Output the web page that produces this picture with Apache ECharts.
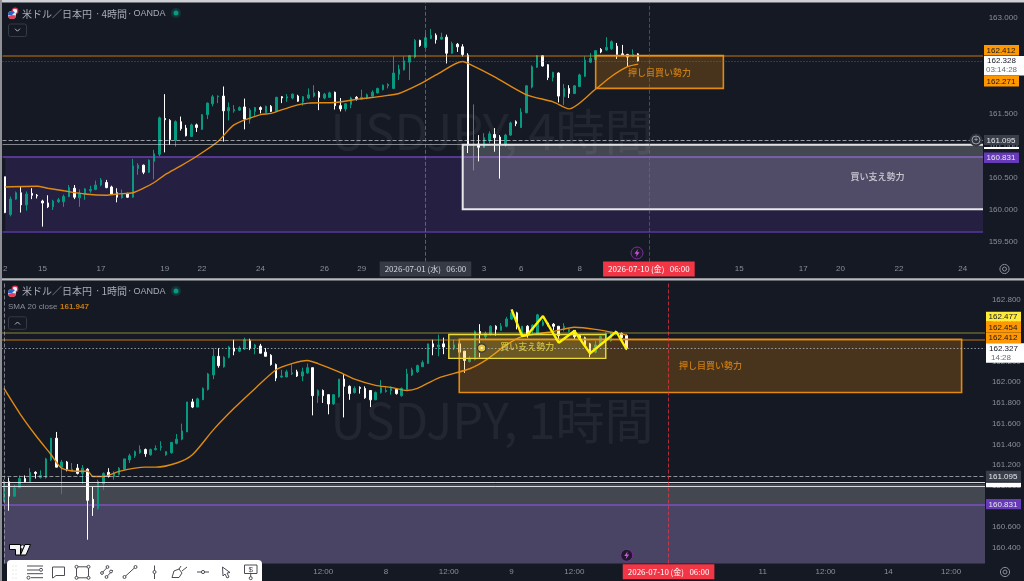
<!DOCTYPE html>
<html><head><meta charset="utf-8">
<style>html,body{margin:0;padding:0;background:#151924}#c{width:1024px;height:581px}</style>
<script src="https://cdn.jsdelivr.net/npm/echarts@6/dist/echarts.min.js"></script>
</head><body><div id="c"></div>
<script>
// [open, close, low, high]
const candles4h = [
[160.52,159.96,159.95,160.52],[159.93,160.17,159.90,160.21],[160.17,160.27,160.16,160.29],[160.27,160.08,159.96,160.37],[160.08,160.25,159.99,160.29],
[160.26,160.23,160.17,160.34],[160.23,160.22,160.18,160.25],[160.14,160.11,159.74,160.16],[160.11,160.05,160.03,160.23],[160.05,160.14,160.00,160.16],
[160.13,160.16,160.11,160.19],[160.13,160.21,160.05,160.24],[160.21,160.35,160.20,160.39],[160.34,160.20,160.17,160.39],[160.19,160.26,160.05,160.32],
[160.25,160.33,160.16,160.34],[160.30,160.32,160.27,160.38],[160.32,160.39,160.31,160.46],[160.39,160.47,160.37,160.50],[160.43,160.35,160.34,160.47],
[160.36,160.25,160.24,160.38],[160.27,160.20,160.12,160.34],[160.19,160.26,160.18,160.32],[160.25,160.20,160.19,160.27],[160.20,160.69,160.19,160.80],
[160.65,160.70,160.55,160.73],[160.70,160.59,160.56,160.71],[160.59,160.78,160.58,160.79],[160.76,160.88,160.48,160.94],[160.87,161.44,160.84,161.46],
[161.43,161.41,160.90,161.81],[161.40,161.10,161.02,161.42],[161.09,161.38,160.99,161.40],[161.38,161.27,161.24,161.46],[161.28,161.16,161.15,161.33],
[161.15,161.33,161.14,161.35],[161.33,161.29,161.22,161.35],[161.26,161.49,161.25,161.50],[161.49,161.67,161.42,161.68],[161.66,161.77,161.62,161.80],
[161.77,161.78,161.67,161.79],[161.78,161.55,161.07,161.93],[161.55,161.60,161.40,161.68],[161.55,161.57,161.52,161.64],[161.56,161.60,161.55,161.62],
[161.61,161.42,161.26,161.74],[161.42,161.56,161.35,161.59],[161.54,161.60,161.47,161.61],[161.60,161.57,161.51,161.62],[161.52,161.62,161.51,161.63],
[161.62,161.54,161.53,161.64],[161.54,161.76,161.53,161.77],[161.77,161.75,161.67,161.78],[161.75,161.77,161.69,161.81],[161.75,161.81,161.73,161.82],
[161.78,161.70,161.69,161.80],[161.69,161.77,161.63,161.78],[161.75,161.80,161.73,161.90],[161.78,161.83,161.76,161.95],[161.84,161.76,161.56,161.86],
[161.75,161.81,161.73,161.83],[161.76,161.83,161.75,161.85],[161.84,161.63,161.57,161.85],[161.63,161.58,161.54,161.75],[161.58,161.66,161.54,161.67],
[161.65,161.75,161.59,161.77],[161.76,161.74,161.71,161.78],[161.73,161.76,161.72,161.88],[161.75,161.80,161.73,161.82],[161.78,161.84,161.77,161.87],
[161.83,161.90,161.82,161.91],[161.88,161.95,161.87,161.96],[161.94,161.96,161.90,161.98],[161.90,162.14,161.89,162.40],[162.12,162.20,162.03,162.27],
[162.19,162.33,162.18,162.40],[162.31,162.41,162.03,162.42],[162.39,162.65,162.37,162.67],[162.65,162.57,162.55,162.66],[162.54,162.69,162.53,162.76],
[162.68,162.73,162.67,162.83],[162.73,162.66,162.60,162.76],[162.67,162.70,162.66,162.77],[162.70,162.45,162.29,162.74],[162.45,162.60,162.44,162.63],
[162.59,162.55,162.47,162.61],[162.55,162.43,162.40,162.59],[162.42,161.02,160.89,162.45],[161.02,161.03,160.62,161.65],[161.03,160.98,160.76,161.17],
[160.98,161.13,160.97,161.20],[161.08,161.19,161.04,161.23],[161.18,161.13,160.91,161.28],[161.14,161.03,160.49,161.17],[161.02,161.17,160.99,161.19],
[161.17,161.36,161.16,161.38],[161.38,161.35,161.31,161.40],[161.29,161.53,161.28,161.59],[161.52,161.94,161.51,161.95],[161.92,162.24,161.90,162.26],
[162.23,162.41,162.22,162.42],[162.41,162.25,162.24,162.42],[162.27,162.07,162.03,162.28],[162.07,162.15,162.01,162.16],[162.14,161.78,161.68,162.15],
[161.77,161.90,161.64,161.97],[161.90,161.82,161.75,161.95],[161.82,161.94,161.81,161.95],[161.93,162.11,161.92,162.13],[162.09,162.34,162.08,162.40],
[162.31,162.37,162.30,162.45],[162.35,162.49,162.34,162.50],[162.51,162.47,162.45,162.53],[162.50,162.54,162.49,162.70],[162.52,162.63,162.50,162.65],
[162.56,162.43,162.36,162.61],[162.44,162.42,162.41,162.58],[162.43,162.39,162.24,162.44],[162.40,162.43,162.39,162.51],[162.44,162.33,162.32,162.45]
];
const candles1h = [
[160.85,161.04,160.84,161.06],[161.04,160.90,160.76,161.08],[160.90,160.98,160.89,161.01],[160.98,161.07,160.98,161.10],[161.07,161.04,161.03,161.10],
[161.04,161.13,161.03,161.17],[161.13,161.12,161.07,161.14],[161.08,161.10,161.07,161.15],[161.08,161.26,161.07,161.27],[161.25,161.46,161.24,161.46],
[161.46,161.18,161.18,161.52],[161.18,161.23,160.92,161.25],[161.23,161.16,161.14,161.24],[161.14,161.16,161.14,161.22],[161.17,161.12,161.11,161.21],
[161.12,161.17,161.02,161.20],[161.16,160.86,160.48,161.17],[160.87,160.79,160.71,160.99],[160.78,161.04,160.77,161.06],[161.02,161.12,160.96,161.13],
[161.13,161.09,161.08,161.17],[161.09,161.12,161.06,161.14],[161.11,161.17,161.10,161.18],[161.16,161.26,161.15,161.26],[161.25,161.29,161.22,161.31],
[161.29,161.33,161.27,161.34],[161.32,161.35,161.31,161.39],[161.35,161.31,161.28,161.36],[161.30,161.35,161.29,161.36],[161.35,161.36,161.34,161.39],
[161.37,161.38,161.34,161.43],[161.30,161.33,161.29,161.33],[161.32,161.42,161.31,161.42],[161.41,161.45,161.40,161.50],[161.45,161.53,161.44,161.60],
[161.52,161.81,161.52,161.81],[161.81,161.76,161.75,161.84],[161.76,161.84,161.76,161.85],[161.83,161.94,161.83,161.95],[161.93,162.08,161.92,162.09],
[162.07,162.25,162.03,162.33],[162.25,162.16,162.14,162.33],[162.15,162.24,162.14,162.25],[162.24,162.34,162.23,162.35],[162.33,162.30,162.26,162.41],
[162.30,162.33,162.29,162.35],[162.32,162.41,162.31,162.43],[162.40,162.33,162.31,162.42],[162.33,162.36,162.27,162.37],[162.35,162.28,162.28,162.37],
[162.29,162.25,162.25,162.33],[162.26,162.17,162.16,162.27],[162.17,162.04,162.01,162.18],[162.05,162.06,162.04,162.12],[162.05,162.10,162.05,162.12],
[162.08,162.09,162.07,162.18],[162.10,162.06,162.05,162.12],[162.06,162.10,162.01,162.14],[162.09,162.14,162.08,162.18],[162.14,161.87,161.68,162.14],
[161.87,161.92,161.80,161.93],[161.92,161.87,161.80,161.93],[161.88,161.79,161.69,161.88],[161.79,161.88,161.78,161.88],[161.86,162.03,161.85,162.03],
[162.03,161.96,161.66,162.08],[161.96,161.89,161.83,161.97],[161.90,161.94,161.89,161.96],[161.95,161.94,161.89,161.96],[161.94,161.85,161.84,161.96],
[161.92,161.83,161.76,161.92],[161.83,161.90,161.83,161.91],[161.90,161.95,161.89,162.02],[161.91,161.92,161.90,161.96],[161.92,161.94,161.88,161.96],
[161.93,161.89,161.88,161.94],[161.87,161.94,161.86,161.95],[161.93,162.08,161.92,162.13],[162.07,162.12,162.06,162.14],[162.10,162.16,162.09,162.17],
[162.15,162.19,162.15,162.21],[162.18,162.37,162.18,162.37],[162.37,162.34,162.26,162.41],[162.34,162.36,162.25,162.46],[162.37,162.34,162.27,162.43],
[162.34,162.35,162.33,162.37],[162.33,162.36,162.31,162.41],[162.37,162.29,162.29,162.40],[162.30,162.21,162.09,162.30],[162.20,162.23,162.19,162.25],
[162.22,162.49,162.21,162.50],[162.49,162.47,162.24,162.56],[162.44,162.47,162.41,162.49],[162.46,162.54,162.45,162.55],[162.54,162.51,162.45,162.55],
[162.50,162.54,162.50,162.57],[162.54,162.61,162.53,162.63],[162.61,162.67,162.60,162.68],[162.67,162.54,162.51,162.68],[162.46,162.54,162.45,162.54],
[162.54,162.46,162.43,162.55],[162.50,162.55,162.47,162.56],[162.47,162.65,162.46,162.66],[162.55,162.58,162.54,162.60],[162.57,162.55,162.54,162.58],
[162.56,162.54,162.50,162.57],[162.54,162.45,162.39,162.54],[162.51,162.54,162.49,162.57],[162.49,162.51,162.48,162.52],[162.50,162.44,162.41,162.50],
[162.45,162.43,162.42,162.46],[162.43,162.36,162.34,162.44],[162.37,162.27,162.24,162.38],[162.29,162.36,162.28,162.40],[162.36,162.44,162.35,162.45],
[162.42,162.47,162.41,162.48],[162.40,162.47,162.39,162.48],[162.46,162.49,162.45,162.50],[162.47,162.43,162.39,162.48],[162.45,162.33,162.31,162.46]
];
// SMA read at candle indexes: [index, value]
const sma4h = [[0,160.36],[6,160.37],[8,160.34],[11,160.30],[15,160.25],[19,160.23],[21,160.25],[24,160.27],[26,160.34],[28,160.43],[30,160.55],[33,160.69],[36,160.84],[40,161.07],[43,161.33],[48,161.49],[50,161.51],[54,161.62],[57,161.67],[62,161.68],[67,161.74],[71,161.78],[74,161.82],[78,161.97],[81,162.11],[86,162.32],[87,162.29],[92,162.08],[98,161.80],[103,161.69],[106,161.58],[111,161.89],[114,162.09],[117,162.24],[119,162.28]];
const sma1h = [[0,161.94],[3,161.70],[6,161.49],[9,161.30],[11,161.17],[14,161.14],[16,161.14],[17,161.09],[19,161.09],[22,161.14],[27,161.18],[29,161.18],[33,161.22],[36,161.30],[40,161.54],[44,161.75],[48,161.94],[52,162.12],[55,162.18],[58,162.21],[60,162.18],[64,162.10],[67,162.03],[71,161.97],[74,161.95],[77,161.92],[79,161.94],[83,162.04],[89,162.13],[92,162.21],[96,162.36],[99,162.44],[105,162.49],[109,162.53],[113,162.51],[119,162.455]];
const yellowPath1h = [[97,162.703],[99,162.445],[100,162.455],[103,162.638],[106,162.381],[109,162.494],[112,162.278],[117,162.487],[119,162.317]];
const ticks4hIdx = [0,7,18,30,37,48,60,67,79,90,97,108,121,138,150,157,168,180];
const ticks4hTxt = ['2','15','17','19','22','24','26','29','{g|2026-07-01 (水)   06:00}','3','6','8','{r|2026-07-10 (金)   06:00}','15','17','20','22','24'];
const ticks1hIdx = [61,73,85,97,109,127,145,157,169,181];
const ticks1hTxt = ['12:00','8','12:00','9','12:00','{r|2026-07-10 (金)   06:00}','11','12:00','14','12:00'];

const BG='#151924', TEAL='#089981', AX='#8b8e97', ORG='#ff9800', PUR='#673ab7';
const NUM='"Liberation Sans",Arial,sans-serif', JP='"Noto Sans CJK JP","Noto Sans",sans-serif';

function cats(n){return Array.from({length:n},(_,i)=>String(i));}
function xAxis(grid,n,idx,txt,margin){
  const m={}; idx.forEach((v,i)=>m[v]=txt[i]);
  return {type:'category',gridIndex:grid,data:cats(n),boundaryGap:true,z:50,
    axisLine:{show:false},axisTick:{show:false},splitLine:{show:false},
    axisLabel:{color:AX,fontSize:8,fontFamily:NUM,margin:margin,verticalAlign:'middle',hideOverlap:false,
      showMinLabel:true,showMaxLabel:true,
      interval:(i)=>m[i]!==undefined, formatter:(v,i)=>m[i]||'',
      rich:{g:{backgroundColor:'#363a45',color:'#d1d4dc',fontSize:8,fontFamily:JP,padding:[3,5,3,5],height:9,lineHeight:9},
            r:{backgroundColor:'#f23645',color:'#fff',fontSize:8,fontFamily:JP,padding:[3,5,3,5],height:9,lineHeight:9}}}};
}
function yAxis(grid,min,max,step,hide,margin){
  return {type:'value',gridIndex:grid,position:'right',min,max,interval:step,scale:true,z:50,
    axisLine:{show:false},axisTick:{show:false},splitLine:{show:false},
    axisLabel:{color:AX,fontSize:8,fontFamily:NUM,margin:margin,
      formatter:(v)=>hide.some(h=>Math.abs(h-v)<1e-6)?'':v.toFixed(3)}};
}
function candle(grid,data){
  return {type:'candlestick',xAxisIndex:grid,yAxisIndex:grid,data,barWidth:2,z:2,silent:true,
    itemStyle:{color:TEAL,color0:'#ffffff',borderColor:TEAL,borderColor0:'#ffffff',borderWidth:1}};
}
function sma(grid,data){
  return {type:'line',xAxisIndex:grid,yAxisIndex:grid,data,showSymbol:false,smooth:0.25,z:4,silent:true,
    lineStyle:{color:'#e08a12',width:1.4}};
}
function marks(grid,z,areas,lines){
  return {type:'line',xAxisIndex:grid,yAxisIndex:grid,data:[],silent:true,z,
    markArea:{silent:true,z,data:areas||[]},
    markLine:{silent:true,z:z+1,symbol:'none',label:{show:false},animation:false,data:lines||[]}};
}
function area(x0,y0,x1,y1,fill,border,bw){
  return [{xAxis:x0,yAxis:y0,itemStyle:{color:fill,borderColor:border||'transparent',borderWidth:bw||0}},{xAxis:x1,yAxis:y1}];
}
function hl(v,color,width,type){return {yAxis:v,lineStyle:{color,width,type:type||'solid'}};}
function vl(x,a,b,color,type){return [{xAxis:x,yAxis:a,lineStyle:{color,width:1,type}},{xAxis:x,yAxis:b}];}
function textSeries(grid,x,y,txt,color){
  return {type:'scatter',xAxisIndex:grid,yAxisIndex:grid,z:12,silent:true,symbolSize:0,data:[[x,y]],
    label:{show:true,position:'inside',formatter:txt,color,fontSize:9,fontWeight:500,fontFamily:JP}};
}

/* decorations */
const g=[];
function rect(x,y,w,h,fill,z,r){g.push({type:'rect',shape:{x,y,width:w,height:h,r:r||0},style:{fill},z:z||60,silent:true});}
function txt(x,y,s,fill,size,font,align,z,weight){g.push({type:'text',x,y,style:{text:s,fill,fontSize:size,fontFamily:font||NUM,align:align||'left',verticalAlign:'middle',fontWeight:weight||'normal'},z:z||61,silent:true});}
function circ(x,y,r,fill,stroke,lw,z){g.push({type:'circle',shape:{cx:x,cy:y,r},style:{fill:fill||'none',stroke:stroke||'none',lineWidth:lw||1},z:z||62,silent:true});}
function poly(pts,stroke,lw,z){g.push({type:'polyline',shape:{points:pts},style:{stroke,fill:'none',lineWidth:lw||1},z:z||62,silent:true});}
function fillPoly(pts,fill,stroke,z){g.push({type:'polygon',shape:{points:pts},style:{fill,stroke:stroke||'none',lineWidth:1},z:z||62,silent:true});}
function tag(x,y,w,h,fill,s,color){rect(x,y,w,h,fill);txt(x+w/2-0.5,y+h/2+0.3,s,color,8,NUM,'center');}

// watermarks
txt(492,131,'USDJPY, 4時間','rgba(255,255,255,0.06)',49,JP,'center',1);
txt(492,420,'USDJPY, 1時間','rgba(255,255,255,0.06)',49,JP,'center',1);

// right-side panel covers and frame
rect(983,3,41,276,BG,40); rect(985,281,39,300,BG,40);
rect(0,0,1024,2.5,'#cfd0d3',70); rect(0,278.3,1024,2.2,'#b9babd',70); rect(0,0,2,581,'#8e9095',70);

// price tags, pane 1
tag(984,45,35,10.5,ORG,'162.412','#131722');
rect(984,56,40,19.5,'#ffffff'); txt(1001.5,61,'162.328','#131722',8,NUM,'center'); txt(1001.5,70.2,'03:14:28','#6a6d78',8,NUM,'center');
tag(984,76,35,10.5,ORG,'162.271','#131722');
tag(984,135,35,10,'#3a3e48','161.095','#e6e8ee');
rect(984,147,35,2,'#ffffff');
tag(984,152.5,35,10.5,PUR,'160.831','#e6e8ee');
// price tags, pane 2
tag(986,311.7,35,10,'#ffeb3b','162.477','#131722');
tag(986,322,35,10.5,ORG,'162.454','#131722');
tag(986,332.5,35,10.7,ORG,'162.412','#131722');
rect(986,343.3,38,19.4,'#ffffff'); txt(1003.5,349,'162.327','#131722',8,NUM,'center'); txt(991,357.7,'14:28','#6a6d78',8,NUM,'left');
tag(986,470.7,35,11,'#3a3e48','161.095','#e6e8ee');
rect(986,482.7,35,4.6,'#ffffff');
tag(986,499,35,10.3,PUR,'160.831','#e6e8ee');

// plus button on pane 1 right
circ(976,140,6,'#2e323c','#2e323c',1,60); circ(976,140,4,'none','#b2b5be',0.8,61); txt(976,140,'+','#c8cad0',7,NUM,'center',62);

// titles
function title(y,tf){
  txt(22,y,'米ドル／日本円','#a9acb5',10,JP);
  txt(96,y,'·','#a9acb5',10,NUM);
  txt(101.5,y,tf,'#a9acb5',10,JP);
  txt(128,y,'·','#a9acb5',10,NUM);
  txt(133.5,y,'OANDA','#a9acb5',9,NUM);
}
function flag(x,y){circ(x+3,y-4,2.8,'#f4f4f6','#d8344a',1.2);circ(x,y,4,'#e8eaf2');
  g.push({type:'sector',shape:{cx:x,cy:y,r:4,startAngle:Math.PI,endAngle:Math.PI*1.75},style:{fill:'#2962c8'},z:63,silent:true});
  g.push({type:'sector',shape:{cx:x,cy:y,r:4,startAngle:0.1,endAngle:Math.PI*0.95},style:{fill:'#e04058'},z:63,silent:true});}
function live(x,y){circ(x,y,5,'rgba(8,153,129,0.22)');circ(x,y,2.5,TEAL);}
function btn(y,up){g.push({type:'rect',shape:{x:8.5,y,width:18,height:12.5,r:2},style:{fill:'none',stroke:'#363a45',lineWidth:1},z:60,silent:true});
  const c=y+6.2; poly(up?[[15,c+1.5],[17.5,c-1],[20,c+1.5]]:[[15,c-1.5],[17.5,c+1],[20,c-1.5]],'#b2b5be',1);}
flag(12,15); title(14,'4時間'); live(176,13); btn(24,false);
flag(12,293); title(291.5,'1時間'); live(176,291);
txt(8,307,'SMA 20 close','#8b8e97',8,NUM); txt(60,307,'161.947','#c77a10',8,NUM,'left',61,'bold'); btn(316.8,true);

// lightning markers
function bolt(x,y){circ(x,y,6,'#1d1a2a','#7b2fa0',1);fillPoly([[x+1,y-4],[x-2.5,y+0.8],[x-0.3,y+0.8],[x-1,y+4],[x+2.5,y-0.8],[x+0.3,y-0.8]],'#d050e0');}
bolt(637,253); bolt(626.7,555.3);
// alarm icon
circ(481.7,348,5,'#2a2a2a','#555',1,20); circ(481.7,348,3.6,'#e6c63a','none',1,21); circ(481.7,348,1.1,'#fff','none',1,22);
// settings icons
[[1004.5,269],[1005,572]].forEach(p=>{circ(p[0],p[1],4.6,'none','#8b8e97',1,62);circ(p[0],p[1],2,'none','#8b8e97',1,62);});

// logo
fillPoly([[9.5,544.5],[20.5,544.5],[20.5,555],[15.5,555],[15.5,549.5],[9.5,549.5]],'#f4f4f4','#000',30);
circ(22.5,547,2,'#f4f4f4','#000',0.6,30);
fillPoly([[25,544.5],[30.5,544.5],[26,555],[20.5,555]],'#f4f4f4','#000',31);

// toolbar
const K='#4a4d55';
g.push({type:'rect',shape:{x:7,y:560,width:255,height:24,r:4},style:{fill:'#ffffff'},z:60,silent:true});
[[13,566],[16,566],[13,570],[16,570],[13,574],[16,574],[13,578],[16,578]].forEach(p=>circ(p[0],p[1],0.5,'#c4c5c9'));
[[27,566,43],[27,570,39],[27,573.7,43],[31,577.7,43]].forEach(a=>poly([[a[0],a[1]],[a[2],a[1]]],K));
circ(41,569.8,1.5,'#fff',K); circ(28.5,577.7,1.5,'#fff',K);
poly([[52.5,567],[64.5,567],[64.5,575.5],[56,575.5],[53,578],[52.5,578],[52.5,567]],K);
g.push({type:'rect',shape:{x:76.5,y:566.8,width:12,height:11},style:{fill:'none',stroke:K,lineWidth:1},z:62,silent:true});
[[76.5,566.8],[88.5,566.8],[76.5,577.8],[88.5,577.8]].forEach(p=>circ(p[0],p[1],1.5,'#fff',K));
poly([[101,574],[108,566.5]],K);poly([[106,577.5],[113,570]],K);circ(102,573,1.4,'#fff',K);circ(107.5,567,1.4,'#fff',K);circ(106.5,577,1.4,'#fff',K);circ(111,571.5,1.4,'#fff',K);
poly([[124,577.5],[136,566.5]],K);circ(124.5,577,1.5,'#fff',K);circ(135.5,567,1.5,'#fff',K);
poly([[154.5,565.5],[154.5,579]],K);circ(154.5,572,1.5,'#fff',K);
poly([[172,577.5],[174,571],[179,569],[182,573],[179,577.5],[172,577.5]],K);poly([[179,569],[181,566]],K);poly([[182,571],[187,567]],K);
poly([[197,572],[209,572]],K);circ(203,572,1.6,'#fff',K);
poly([[222.5,567],[230,572.5],[227,573],[229,577],[227,578],[225,574],[223,576],[222.5,567]],K);
g.push({type:'rect',shape:{x:244.5,y:565,width:12.5,height:8.5},style:{fill:'none',stroke:K,lineWidth:1},z:62,silent:true});
txt(250.7,569.5,'$',K,8,NUM,'center');poly([[250.7,573.5],[250.7,577]],K);circ(250.7,578.2,1.5,'#fff',K);

const option={
  animation:false,backgroundColor:BG,graphic:{elements:g},
  grid:[{left:0,top:2,width:986.67,height:272,containLabel:false},
        {left:1.38,top:278.6,width:989,height:290.1,containLabel:false}],
  xAxis:[xAxis(0,185,ticks4hIdx,ticks4hTxt,-5),xAxis(1,189,ticks1hIdx,ticks1hTxt,3)],
  yAxis:[yAxis(0,159,163.25,0.5,[159,163.25],2),yAxis(1,160.2,163,0.2,[160.2,163],1.5)],
  series:[
    // pane 1
    marks(0,1,[area(0,160.83,184,159.66,'rgba(103,58,183,0.2)')],[hl(160.83,'#6a3fb5',1.5),hl(159.66,'#5a36a0',1.5)]),
    candle(0,candles4h), sma(0,sma4h),
    marks(0,5,[
      area(86,161.02,184,160.01,'rgba(255,255,255,0.2)','#e8e8ea',2),
      area(111,162.412,135,161.90,'rgba(255,152,0,0.22)','#e08a12',1.6)
    ],[
      hl(162.412,'rgba(255,152,0,0.5)',1.5),
      hl(162.328,'rgba(70,130,190,0.7)',1,[1,2]),
      hl(161.095,'rgba(210,212,218,0.7)',1,'dashed'),
      hl(161.02,'rgba(220,220,224,0.55)',1),
      vl(79,159.19,163.23,'rgba(150,152,160,0.55)','dashed'),
      vl(121,159.19,163.23,'rgba(242,54,69,0.6)','dashed')
    ]),
    textSeries(0,123,162.14,'押し目買い勢力','#ef8f10'),
    textSeries(0,164,160.52,'買い支え勢力','#e8e8ec'),
    // pane 2
    marks(1,1,[area(0,161.02,188,160.25,'rgba(255,255,255,0.2)'),area(0,160.82,188,160.25,'rgba(103,58,183,0.2)')],
      [hl(160.82,'#7b52c0',1.6)]),
    candle(1,candles1h), sma(1,sma1h),
    marks(1,5,[
      area(87,162.414,183,161.90,'rgba(255,152,0,0.22)','#e08a12',1.6),
      area(85,162.46,115,162.23,'rgba(255,235,59,0.2)','#eadb3c',1.4)
    ],[
      hl(162.478,'rgba(255,235,59,0.35)',1.5),
      hl(162.407,'rgba(255,152,0,0.5)',1.5),
      hl(162.327,'rgba(200,205,215,0.7)',1,[1.5,2]),
      hl(161.095,'rgba(210,212,218,0.65)',1,'dashed'),
      hl(161.03,'rgba(235,235,238,0.9)',1),
      hl(161.005,'rgba(235,235,238,0.9)',1),
      vl(0,160.25,162.967,'rgba(190,192,198,0.6)','dashed'),
      vl(127,160.25,162.967,'rgba(242,54,69,0.7)','dashed')
    ]),
    {type:'line',xAxisIndex:1,yAxisIndex:1,data:yellowPath1h,showSymbol:false,z:9,silent:true,lineStyle:{color:'#fff200',width:2.4}},
    textSeries(1,135,162.16,'押し目買い勢力','#ef8f10'),
    textSeries(1,100,162.345,'買い支え勢力','#e6d84a')
  ]
};
const chart=echarts.init(document.getElementById('c'),null,{renderer:'canvas'});
chart.setOption(option);
</script></body></html>
